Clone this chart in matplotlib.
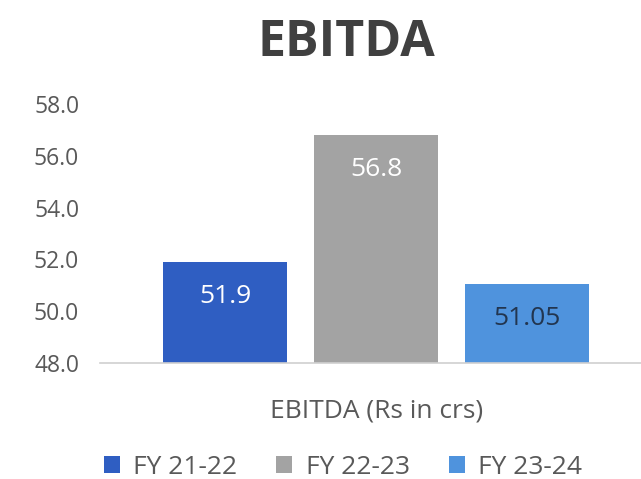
import numpy as np
import matplotlib.pyplot as plt

# values
years = ['FY 21-22', 'FY 22-23', 'FY 23-24']
ebitda = [51.9, 56.8, 51.05]
value_labels = ['51.9', '56.8', '51.05']
colors = ['#2F5EC2', '#A3A3A3', '#4F93DD']
label_colors = ['white', 'white', '#22354F']
yticks = [48.0, 50.0, 52.0, 54.0, 56.0, 58.0]

plt.rcParams['font.family'] = ['Open Sans', 'DejaVu Sans']

fig = plt.figure(figsize=(6.41, 4.79), dpi=100)
ax = fig.add_axes([0.156, 0.242, 0.844, 0.541])

xs = np.arange(len(years)) - 1
bars = ax.bar(xs, ebitda, width=0.82, color=colors, label=years, zorder=2)

for b, txt, c in zip(bars, value_labels, label_colors):
    ax.annotate(txt, (b.get_x() + b.get_width() / 2, b.get_height()),
                xytext=(0, -25), textcoords='offset points', ha='center', va='center',
                fontsize=19, color=c)

ax.set_ylim(48, 58)
ax.set_xlim(-1.83, 1.755)
ax.set_yticks(yticks)
ax.set_yticklabels([f'{t:.1f}' for t in yticks], fontsize=16.5, color='#595959')
ax.set_xticks([])
ax.tick_params(axis='y', length=0, pad=15)

for s in ['top', 'right', 'left']:
    ax.spines[s].set_visible(False)
ax.spines['bottom'].set_color('#D0D0D0')
ax.spines['bottom'].set_linewidth(1.2)

fig.text(0.541, 0.91, 'EBITDA', ha='center', va='center', fontsize=36,
         fontweight='bold', color='#404040')
fig.text(0.587, 0.142, 'EBITDA (Rs in crs)', ha='center', va='center',
         fontsize=19, color='#595959')

leg = fig.legend(handles=bars, labels=years, loc='center', bbox_to_anchor=(0.535, 0.025),
                 ncol=3, frameon=False, fontsize=19, handlelength=0.6, handleheight=0.6,
                 columnspacing=1.5, handletextpad=0.5)
for t in leg.get_texts():
    t.set_color('#595959')

fig.savefig('out.png', dpi=100)
